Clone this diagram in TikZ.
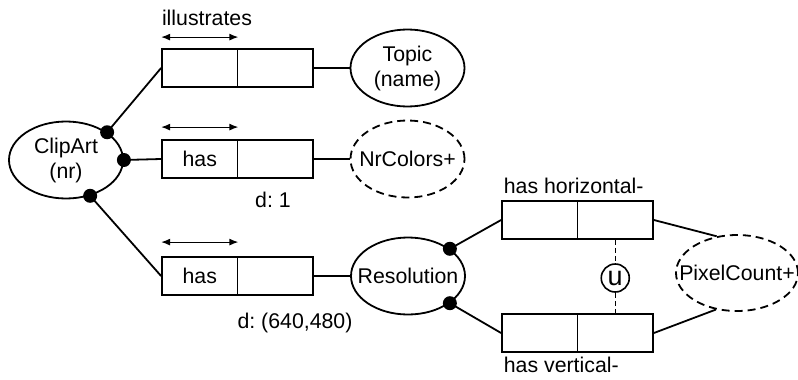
\documentclass[tikz,border=0pt]{standalone}
\usepackage{fontspec}
\setmainfont{Liberation Sans}
\usetikzlibrary{shapes.geometric,arrows.meta}

\begin{document}
\begin{tikzpicture}[x=1pt,y=-1pt, line width=1.8pt,
  font=\fontsize{21.3}{25}\selectfont\frenchspacing,
  entity/.style={ellipse, draw, inner sep=0pt,
    minimum width=114pt, minimum height=77pt,
    label={[inner sep=0pt, align=center]center:#1}},
  valuetype/.style={entity=#1, dash pattern=on 8pt off 5pt},
  rolebox/.style={rectangle, draw, minimum width=75.5pt, minimum height=38pt, inner sep=0pt},
  dot/.style={circle, fill=black, inner sep=0pt, minimum size=14pt},
  span/.style={{Latex[length=9pt,width=7pt]}-{Latex[length=9pt,width=7pt]}, line width=1.2pt},
  lbl/.style={inner sep=0pt},
  uniq/.style={circle, draw, minimum size=28pt, inner sep=0pt, line width=1.6pt,
    font=\fontsize{27}{30}\selectfont},
  uline/.style={line width=1.5pt, dash pattern=on 5pt off 3pt},
]
\useasboundingbox (0,0) rectangle (798,380);

% entity and value types (fixed-size ellipses, name set as a centred label)
\node[entity={ClipArt\\(nr)}] (clip) at (66,160) {};
\node[entity={Topic\\(name)}] (topic) at (407.5,68) {};
\node[valuetype={NrColors+}] (nrc) at (407.5,159) {};
\node[entity={Resolution}] (res) at (408,276) {};
\node[valuetype={PixelCount+}, minimum width=122pt, minimum height=76pt] (pix) at (737,273) {};

% fact types (two roles each)
\node[rolebox] (r1a) at (199.75,68) {};
\node[rolebox] (r1b) at (275.25,68) {};
\node[rolebox] (r2a) at (199.75,159) {has};
\node[rolebox] (r2b) at (275.25,159) {};
\node[rolebox] (r3a) at (199.75,276) {has};
\node[rolebox] (r3b) at (275.25,276) {};
\node[rolebox] (r4a) at (539.75,220) {};
\node[rolebox] (r4b) at (615.25,220) {};
\node[rolebox] (r5a) at (539.75,333) {};
\node[rolebox] (r5b) at (615.25,333) {};

% uniqueness bars
\draw[span] ([yshift=11pt]r1a.north west) -- ([yshift=11pt]r1a.north east);
\draw[span] ([yshift=12pt]r2a.north west) -- ([yshift=12pt]r2a.north east);
\draw[span] ([yshift=14pt]r3a.north west) -- ([yshift=14pt]r3a.north east);

% mandatory role dots
\node[dot] (d1) at (clip.34) {};
\node[dot] (d2) at (clip.0) {};
\node[dot] (d3) at (clip.-56) {};
\node[dot] (d4) at (res.33) {};
\node[dot] (d5) at (res.-33) {};

% role connectors
\draw (d1.center) -- (r1a.west);
\draw (d2.center) -- (r2a.west);
\draw (d3.center) -- (r3a.west);
\draw (r1b.east) -- (topic.west);
\draw (r2b.east) -- (nrc.west);
\draw (r3b.east) -- (res.west);
\draw (d4.center) -- (r4a.west);
\draw (d5.center) -- (r5a.west);
\draw (r4b.east) -- (pix.119);
\draw (r5b.east) -- (pix.-120);

% external uniqueness constraint
\node[uniq] (u) at (615.25,278) {u};
\draw[uline] (r4b.south) -- (u.north);
\draw[uline] (u.south) -- (r5b.north);

% labels
\node[lbl] (t1) at (207,18) {illustrates};
\node[lbl] (t2) at (273,200) {d: 1};
\node[lbl] (t3) at (295,323) {d: (640,480)};
\node[lbl, anchor=west] (t4) at (503,186) {has horizontal-};
\node[lbl, anchor=west] (t5) at (503,365) {has vertical-};
\end{tikzpicture}
\end{document}
